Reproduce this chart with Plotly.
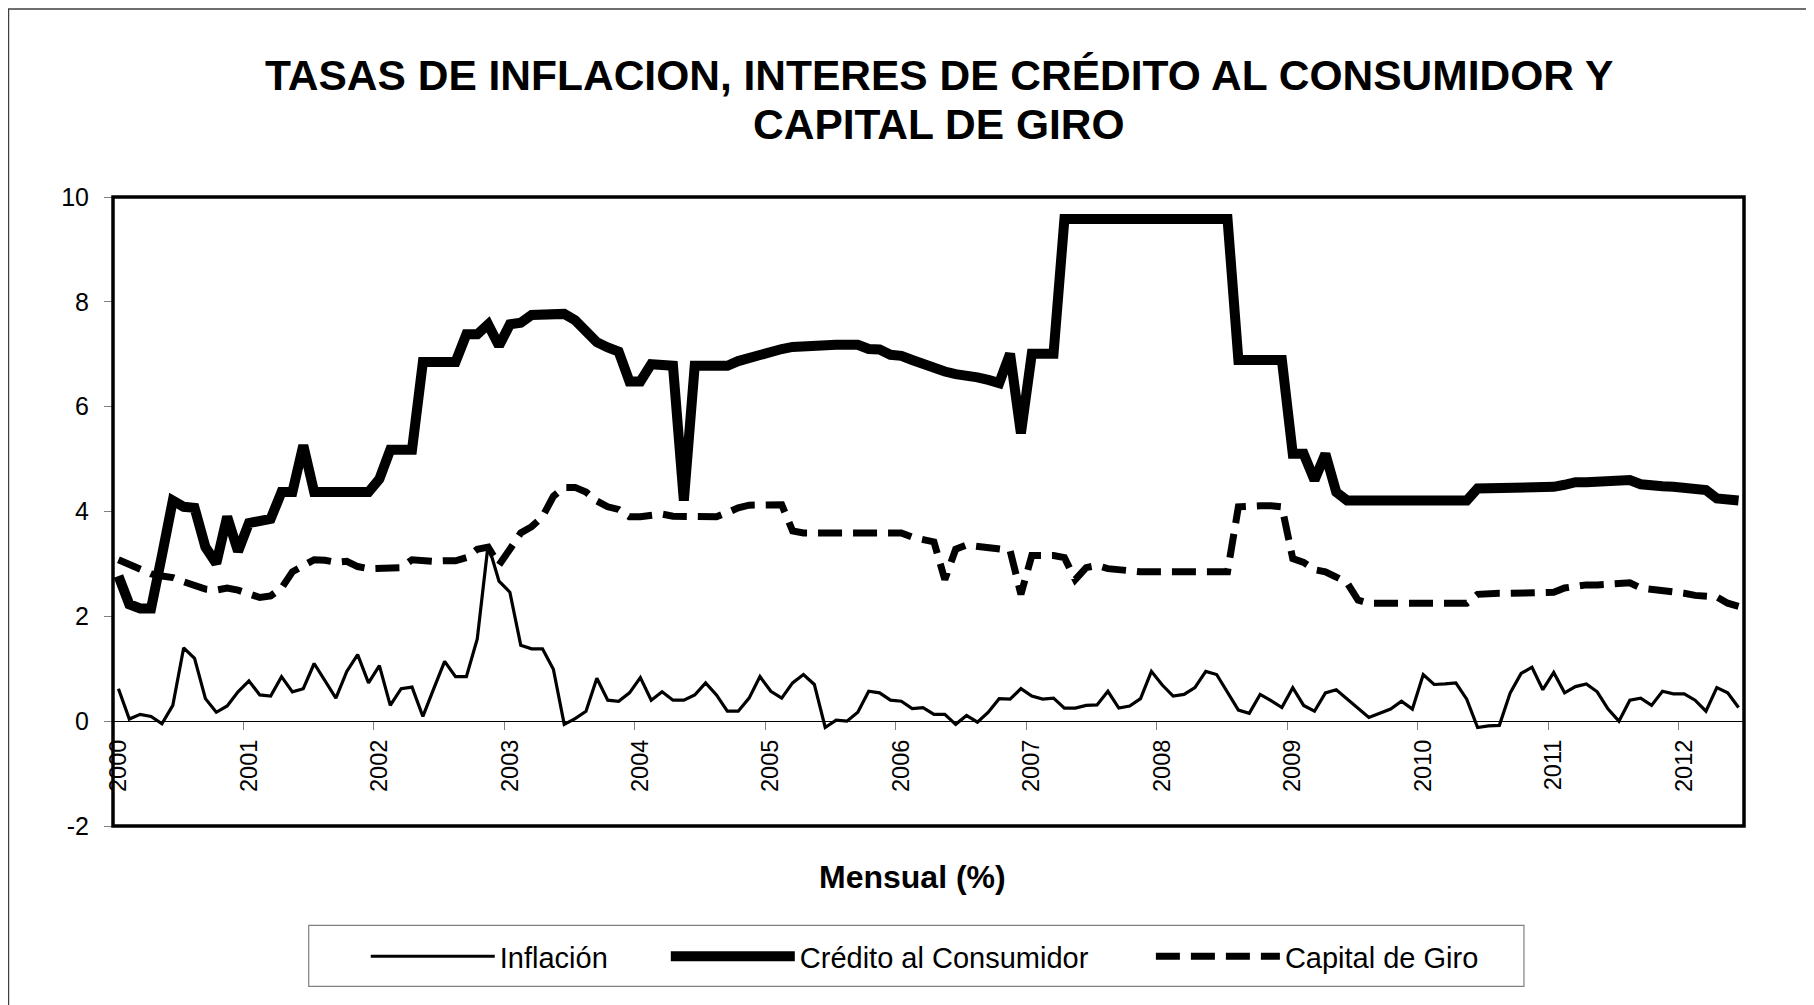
import plotly.graph_objects as go

# monthly series, Jan 2000 - Jun 2012 (%)
years = list(range(2000, 2013))
months = [f"{y}-{m:02d}" for y in years for m in range(1, 13)][:150]

inflacion = [
    0.62, 0.04, 0.13, 0.09, -0.05, 0.30, 1.40, 1.20, 0.43, 0.17, 0.29, 0.56,
    0.77, 0.50, 0.48, 0.85, 0.56, 0.62, 1.10, 0.78, 0.44, 0.95, 1.27, 0.73,
    1.06, 0.30, 0.62, 0.65, 0.09, 0.62, 1.14, 0.85, 0.85, 1.57, 3.37, 2.67,
    2.46, 1.45, 1.38, 1.38, 0.99, -0.06, 0.05, 0.19, 0.82, 0.40, 0.38, 0.54,
    0.83, 0.40, 0.56, 0.40, 0.40, 0.50, 0.73, 0.50, 0.19, 0.19, 0.44, 0.85,
    0.57, 0.44, 0.73, 0.89, 0.70, -0.12, 0.02, 0.00, 0.17, 0.57, 0.54, 0.40,
    0.38, 0.24, 0.26, 0.13, 0.13, -0.06, 0.11, -0.02, 0.17, 0.43, 0.42, 0.62,
    0.48, 0.42, 0.44, 0.25, 0.25, 0.30, 0.31, 0.57, 0.25, 0.29, 0.43, 0.95,
    0.69, 0.48, 0.51, 0.64, 0.95, 0.89, 0.56, 0.21, 0.15, 0.51, 0.39, 0.26,
    0.64, 0.30, 0.19, 0.54, 0.60, 0.42, 0.25, 0.07, 0.15, 0.23, 0.38, 0.23,
    0.89, 0.70, 0.71, 0.73, 0.42, -0.12, -0.09, -0.08, 0.54, 0.91, 1.03, 0.60,
    0.93, 0.54, 0.66, 0.71, 0.56, 0.23, 0.00, 0.40, 0.44, 0.30, 0.57, 0.52,
    0.52, 0.40, 0.19, 0.64, 0.54, 0.26,
]

credito = [
    2.77, 2.23, 2.15, 2.15, 3.16, 4.21, 4.09, 4.07, 3.32, 3.01, 3.90, 3.24,
    3.78, 3.81, 3.86, 4.37, 4.37, 5.26, 4.37, 4.37, 4.37, 4.37, 4.37, 4.37,
    4.62, 5.18, 5.18, 5.18, 6.85, 6.85, 6.85, 6.85, 7.38, 7.38, 7.57, 7.16,
    7.57, 7.60, 7.75, 7.75, 7.73, 7.77, 7.65, 7.44, 7.23, 7.13, 7.05, 6.48,
    6.48, 6.81, 6.81, 6.78, 4.21, 6.78, 6.78, 6.78, 6.78, 6.87, 6.93, 7.01,
    7.07, 7.10, 7.14, 7.16, 7.18, 7.18, 7.18, 7.18, 7.18, 7.10, 7.09, 6.99,
    6.97, 6.89, 6.81, 6.70, 6.67, 6.62, 6.60, 6.56, 6.51, 6.45, 7.01, 5.49,
    7.01, 7.01, 7.01, 9.58, 9.58, 9.58, 9.58, 9.58, 9.58, 9.58, 9.58, 9.58,
    9.58, 9.58, 9.58, 9.58, 9.58, 9.58, 9.58, 6.89, 6.89, 6.89, 6.89, 6.89,
    5.10, 5.10, 4.60, 5.10, 4.37, 4.21, 4.21, 4.21, 4.21, 4.21, 4.21, 4.21,
    4.21, 4.21, 4.21, 4.21, 4.21, 4.44, 4.44, 4.44, 4.44, 4.44, 4.44, 4.44,
    4.47, 4.51, 4.56, 4.56, 4.56, 4.56, 4.58, 4.60, 4.52, 4.52, 4.48, 4.47,
    4.45, 4.43, 4.41, 4.25, 4.23, 4.21,
]

capital_giro = [
    3.08, 2.98, 2.89, 2.81, 2.77, 2.74, 2.66, 2.58, 2.52, 2.50, 2.54, 2.50,
    2.42, 2.36, 2.39, 2.54, 2.85, 2.98, 3.08, 3.07, 3.03, 3.05, 2.95, 2.91,
    2.91, 2.91, 2.93, 3.08, 3.06, 3.05, 3.06, 3.06, 3.12, 3.28, 3.32, 2.98,
    3.28, 3.59, 3.71, 3.90, 4.29, 4.46, 4.46, 4.37, 4.20, 4.09, 4.04, 3.90,
    3.90, 3.94, 3.95, 3.91, 3.90, 3.90, 3.90, 3.90, 3.98, 4.07, 4.12, 4.13,
    4.13, 4.13, 3.63, 3.59, 3.59, 3.59, 3.59, 3.59, 3.59, 3.59, 3.59, 3.59,
    3.59, 3.51, 3.46, 3.42, 2.70, 3.28, 3.36, 3.33, 3.30, 3.28, 3.26, 2.42,
    3.16, 3.16, 3.16, 3.12, 2.70, 2.93, 2.97, 2.91, 2.88, 2.85, 2.85, 2.85,
    2.85, 2.85, 2.85, 2.85, 2.85, 2.85, 2.85, 4.09, 4.11, 4.11, 4.11, 4.09,
    3.10, 3.03, 2.89, 2.85, 2.75, 2.64, 2.31, 2.25, 2.25, 2.25, 2.25, 2.25,
    2.25, 2.25, 2.25, 2.25, 2.25, 2.42, 2.44, 2.44, 2.44, 2.44, 2.44, 2.44,
    2.46, 2.54, 2.58, 2.60, 2.60, 2.61, 2.63, 2.64, 2.54, 2.52, 2.49, 2.48,
    2.44, 2.40, 2.39, 2.37, 2.25, 2.19,
]

y_ticks = [-2, 0, 2, 4, 6, 8, 10]

FONT = "Arial, Liberation Sans, sans-serif"

x = list(range(len(months)))
year_pos = [i for i, m in enumerate(months) if m.endswith("-01")]
year_txt = [m[:4] for m in months if m.endswith("-01")]

fig = go.Figure()

fig.add_trace(go.Scatter(
    x=x, y=inflacion, customdata=months, name="Inflación", mode="lines",
    line=dict(color="black", width=3.2), legend="legend",
    hovertemplate="%{customdata}: %{y}<extra>Inflación</extra>",
))
fig.add_trace(go.Scatter(
    x=x, y=credito, customdata=months, name="Crédito al Consumidor", mode="lines",
    line=dict(color="black", width=10), legend="legend2",
    hovertemplate="%{customdata}: %{y}<extra>Crédito</extra>",
))
fig.add_trace(go.Scatter(
    x=x, y=capital_giro, customdata=months, name="Capital de Giro", mode="lines",
    line=dict(color="black", width=7, dash="24px,11px"), legend="legend3",
    hovertemplate="%{customdata}: %{y}<extra>Capital de Giro</extra>",
))


# page pixel -> paper coords (plot area spans x 113.3-1744, y 197-826.5 on the page)
def px_x(p):
    return (p - 113.3) / 1630.7


def px_y(p):
    return (826.5 - p) / 629.5


legend_style = dict(
    orientation="h", xanchor="left", yanchor="middle", y=px_y(957),
    bgcolor="rgba(0,0,0,0)", borderwidth=0, itemwidth=124,
    font=dict(family=FONT, size=29, color="black"),
)

# the page body has an 8px margin, so the figure is a bit smaller than the window
fig.update_layout(
    width=1806,
    height=997,
    margin=dict(l=105.3, r=70, t=189, b=178.5),
    plot_bgcolor="white",
    paper_bgcolor="white",
    font=dict(family=FONT, color="black"),
    showlegend=True,
    legend=dict(legend_style, x=px_x(366)),
    legend2=dict(legend_style, x=px_x(666)),
    legend3=dict(legend_style, x=px_x(1151)),
    xaxis=dict(
        range=[-0.5, len(months) - 0.5],
        anchor="free", position=2 / 12,
        showline=True, linecolor="black", linewidth=1.2,
        showgrid=False, zeroline=False,
        tickmode="array", tickvals=year_pos, ticktext=year_txt,
        ticks="", tickangle=-90, ticklabelstandoff=8,
        tickfont=dict(family=FONT, size=23.5, color="black"),
        minor=dict(tickmode="array", tickvals=[p - 0.5 for p in year_pos],
                   ticks="outside", ticklen=8, tickcolor="#808080", tickwidth=1),
    ),
    yaxis=dict(
        range=[-2, 10],
        tickmode="array", tickvals=y_ticks, ticktext=[str(v) for v in y_ticks],
        showgrid=False, zeroline=False, showline=False,
        ticks="outside", ticklen=8, tickcolor="#808080", tickwidth=1,
        ticklabelstandoff=10,
        tickfont=dict(family=FONT, size=25, color="black"),
    ),
    shapes=[
        # plot frame
        dict(type="rect", xref="paper", yref="paper", x0=0, x1=1, y0=0, y1=1,
             line=dict(color="black", width=3.5), layer="above"),
        # legend box
        dict(type="rect", xref="paper", yref="paper",
             x0=px_x(309), x1=px_x(1524), y0=px_y(987), y1=px_y(926),
             line=dict(color="#808080", width=1.2), layer="below"),
        # chart area border
        dict(type="rect", xref="paper", yref="paper",
             x0=px_x(8.8), x1=px_x(1830), y0=px_y(1020), y1=px_y(8.8),
             line=dict(color="#404040", width=1.5), layer="below"),
    ],
    annotations=[
        dict(text="<b>TASAS DE INFLACION, INTERES DE CRÉDITO AL CONSUMIDOR Y</b>",
             xref="paper", yref="paper", x=px_x(939), y=px_y(75),
             xanchor="center", yanchor="middle", showarrow=False,
             font=dict(family=FONT, size=42.5, color="black")),
        dict(text="<b>CAPITAL DE GIRO</b>",
             xref="paper", yref="paper", x=px_x(939), y=px_y(124),
             xanchor="center", yanchor="middle", showarrow=False,
             font=dict(family=FONT, size=42.5, color="black")),
        dict(text="<b>Mensual (%)</b>",
             xref="paper", yref="paper", x=px_x(913), y=px_y(878),
             xanchor="center", yanchor="middle", showarrow=False,
             font=dict(family=FONT, size=32, color="black")),
    ],
)

fig.write_html("out.html")
